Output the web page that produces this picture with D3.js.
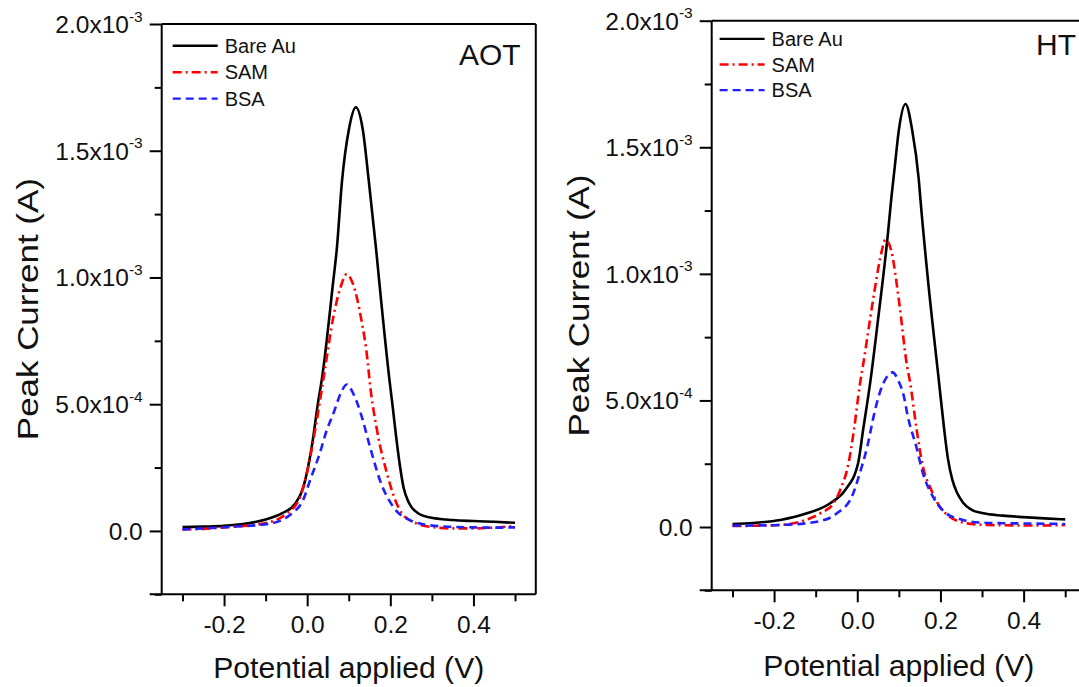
<!DOCTYPE html>
<html>
<head>
<meta charset="utf-8">
<script src="https://cdn.jsdelivr.net/npm/d3@7/dist/d3.min.js"></script>
<style>
  html, body { margin: 0; padding: 0; background: #fff; }
  svg { display: block; font-family: "Liberation Sans", Arial, sans-serif; }
</style>
</head>
<body>
<svg id="chart" width="1079" height="687"></svg>
<script>
// ---- Data (current in units of 1e-3 A, potential in V) ----
const seriesNames = ["Bare Au", "SAM", "BSA"];

const aotBareAu = [[-0.30,0.015],[-0.25,0.017],[-0.20,0.020],[-0.15,0.028],[-0.10,0.045],[-0.06,0.070],[-0.03,0.105],[-0.009,0.174],[0.011,0.332],[0.027,0.516],[0.035,0.595],[0.063,0.990],[0.071,1.108],[0.084,1.384],[0.100,1.581],[0.117,1.671],[0.134,1.581],[0.148,1.384],[0.166,1.108],[0.173,0.990],[0.198,0.595],[0.205,0.500],[0.212,0.400],[0.222,0.270],[0.232,0.170],[0.245,0.110],[0.265,0.072],[0.293,0.054],[0.35,0.043],[0.40,0.039],[0.45,0.036],[0.50,0.032]];
const aotSAM = [[-0.30,0.006],[-0.25,0.008],[-0.185,0.016],[-0.105,0.029],[-0.049,0.069],[-0.017,0.134],[-0.001,0.227],[0.019,0.397],[0.042,0.630],[0.063,0.845],[0.080,0.960],[0.095,1.013],[0.110,0.975],[0.129,0.845],[0.146,0.661],[0.150,0.595],[0.168,0.397],[0.192,0.227],[0.212,0.121],[0.228,0.069],[0.264,0.029],[0.30,0.015],[0.35,0.010],[0.40,0.010],[0.45,0.013],[0.50,0.020]];
const aotBSA = [[-0.30,0.006],[-0.25,0.010],[-0.185,0.016],[-0.089,0.029],[-0.037,0.069],[-0.010,0.121],[0.007,0.200],[0.030,0.305],[0.047,0.397],[0.063,0.463],[0.080,0.540],[0.095,0.578],[0.110,0.545],[0.129,0.463],[0.151,0.332],[0.175,0.200],[0.207,0.095],[0.248,0.042],[0.296,0.022],[0.35,0.016],[0.40,0.014],[0.45,0.013],[0.50,0.014]];

const htBareAu = [[-0.30,0.012],[-0.25,0.016],[-0.185,0.028],[-0.121,0.054],[-0.065,0.094],[-0.029,0.146],[0.002,0.252],[0.014,0.383],[0.032,0.581],[0.050,0.820],[0.073,1.147],[0.082,1.300],[0.090,1.420],[0.100,1.568],[0.116,1.671],[0.132,1.568],[0.148,1.371],[0.152,1.292],[0.170,0.976],[0.196,0.581],[0.208,0.400],[0.218,0.270],[0.228,0.190],[0.240,0.135],[0.255,0.095],[0.275,0.068],[0.30,0.055],[0.35,0.045],[0.40,0.039],[0.45,0.034],[0.50,0.030]];
const htSAM = [[-0.30,0.004],[-0.25,0.005],[-0.185,0.008],[-0.137,0.021],[-0.089,0.054],[-0.057,0.094],[-0.041,0.146],[-0.021,0.252],[-0.008,0.383],[0.006,0.560],[0.014,0.640],[0.038,0.897],[0.055,1.060],[0.068,1.135],[0.082,1.090],[0.100,0.897],[0.120,0.633],[0.126,0.581],[0.143,0.383],[0.156,0.252],[0.178,0.146],[0.198,0.081],[0.222,0.041],[0.262,0.015],[0.30,0.009],[0.35,0.007],[0.40,0.006],[0.45,0.006],[0.50,0.008]];
const htBSA = [[-0.30,0.005],[-0.25,0.006],[-0.185,0.008],[-0.097,0.021],[-0.049,0.054],[-0.013,0.120],[0.006,0.212],[0.024,0.317],[0.041,0.449],[0.054,0.530],[0.070,0.590],[0.085,0.611],[0.098,0.581],[0.114,0.502],[0.120,0.449],[0.142,0.317],[0.158,0.212],[0.182,0.120],[0.214,0.054],[0.254,0.028],[0.30,0.017],[0.35,0.015],[0.40,0.014],[0.45,0.013],[0.50,0.012]];

const panelLabels = ["AOT", "HT"];
const xTickValues = [-0.3,-0.2,-0.1,0.0,0.1,0.2,0.3,0.4,0.5];
const xTickLabels = {"-0.2":"-0.2","0":"0.0","0.2":"0.2","0.4":"0.4"};
const yTickValues = [-0.25,0,0.25,0.5,0.75,1.0,1.25,1.5,1.75,2.0];
const yTickMajor = [0,0.5,1.0,1.5,2.0];
const yTickMantissa = ["0.0","5.0x10","1.0x10","1.5x10","2.0x10"];
const yTickExponent = ["","-4","-3","-3","-3"];
const xTitle = "Potential applied (V)";
const yTitle = "Peak Current (A)";

// ---- Layout ----
const panels = [
  {left:161.7, right:535.8, top:24.0, bottom:594.3, data:[aotBareAu,aotSAM,aotBSA], label:panelLabels[0],
   labelX:459, labelY:65, legX:172.7, legY:45.8, legStep:26.4, titleY:678, yTitleX:38, closeRight:true},
  {left:711.7, right:1086.0, top:20.7, bottom:590.3, data:[htBareAu,htSAM,htBSA], label:panelLabels[1],
   labelX:1036, labelY:55, legX:719.6, legY:38.9, legStep:25.6, titleY:676, yTitleX:589, closeRight:false}
];
const styles = [
  {color:"#000000", dash:null},
  {color:"#ff0000", dash:"9,4,2,4"},
  {color:"#1f1fff", dash:"8,5"}
];

const svg = d3.select("#chart");
svg.append("rect").attr("width",1079).attr("height",687).attr("fill","#fff");

panels.forEach(p => {
  const x = d3.scaleLinear().domain([-0.35,0.55]).range([p.left,p.right]);
  const y = d3.scaleLinear().domain([-0.25,2.0]).range([p.bottom,p.top]);
  const g = svg.append("g");

  // curves
  const line = d3.line().x(d=>x(d[0])).y(d=>y(d[1])).curve(d3.curveMonotoneX);
  p.data.forEach((ser,i) => {
    g.append("path").datum(ser).attr("d",line).attr("fill","none")
      .attr("stroke",styles[i].color).attr("stroke-width",2.6)
      .attr("stroke-dasharray",styles[i].dash);
  });

  // x axis
  const xAxis = d3.axisBottom(x).tickValues(xTickValues).tickSize(0).tickFormat("");
  const xg = g.append("g").attr("transform",`translate(0,${p.bottom})`).call(xAxis);
  xg.select(".domain").remove();
  xg.selectAll(".tick").each(function(d){
    const key = String(+d.toFixed(1));
    const major = key in xTickLabels;
    const t = d3.select(this);
    t.append("line").attr("y1",0).attr("y2",major?12:7).attr("stroke","#000").attr("stroke-width",2);
    if (major) t.append("text").attr("y",39).attr("text-anchor","middle")
      .attr("font-size",24.5).attr("fill","#111").text(xTickLabels[key]);
  });

  // y axis
  const yAxis = d3.axisLeft(y).tickValues(yTickValues).tickSize(0).tickFormat("");
  const yg = g.append("g").attr("transform",`translate(${p.left},0)`).call(yAxis);
  yg.select(".domain").remove();
  yg.selectAll(".tick").each(function(d){
    const idx = yTickMajor.indexOf(d);
    const major = idx >= 0;
    const t = d3.select(this);
    t.append("line").attr("x1",0).attr("x2",major?-12:-7).attr("stroke","#000").attr("stroke-width",2);
    if (major) {
      const txt = t.append("text").attr("x",-19).attr("y",8.5).attr("text-anchor","end")
        .attr("font-size",24.5).attr("fill","#111");
      txt.append("tspan").text(yTickMantissa[idx]);
      if (yTickExponent[idx]) txt.append("tspan").attr("font-size",15.5).attr("dy",-11.5).text(yTickExponent[idx]);
    }
  });

  // frame
  const fr = g.append("g").attr("stroke","#000").attr("stroke-width",2).attr("fill","none");
  fr.append("line").attr("x1",p.left).attr("x2",p.left).attr("y1",p.top).attr("y2",p.bottom);
  fr.append("line").attr("x1",p.left-12).attr("x2",p.right).attr("y1",p.bottom).attr("y2",p.bottom);
  fr.append("line").attr("x1",p.left).attr("x2",p.right).attr("y1",p.top).attr("y2",p.top);
  if (p.closeRight) fr.append("line").attr("x1",p.right).attr("x2",p.right).attr("y1",p.top).attr("y2",p.bottom);

  // titles
  g.append("text").attr("x",(p.left+p.right)/2).attr("y",p.titleY).attr("text-anchor","middle")
    .attr("font-size",29.5).attr("textLength",271).attr("lengthAdjust","spacingAndGlyphs")
    .attr("fill","#111").text(xTitle);
  g.append("text").attr("transform",`translate(${p.yTitleX},${(p.top+p.bottom)/2}) rotate(-90)`)
    .attr("text-anchor","middle").attr("font-size",30).attr("textLength",262).attr("lengthAdjust","spacingAndGlyphs")
    .attr("fill","#111").text(yTitle);

  // panel label
  g.append("text").attr("x",p.labelX).attr("y",p.labelY).attr("font-size",30).attr("fill","#111").text(p.label);

  // legend
  seriesNames.forEach((name,i) => {
    const ly = p.legY + i*p.legStep;
    g.append("line").attr("x1",p.legX).attr("x2",p.legX+45).attr("y1",ly).attr("y2",ly)
      .attr("stroke",styles[i].color).attr("stroke-width",2.4).attr("stroke-dasharray",styles[i].dash);
    g.append("text").attr("x",p.legX+52).attr("y",ly+7).attr("font-size",20).attr("fill","#111").text(name);
  });
});
</script>
</body>
</html>
